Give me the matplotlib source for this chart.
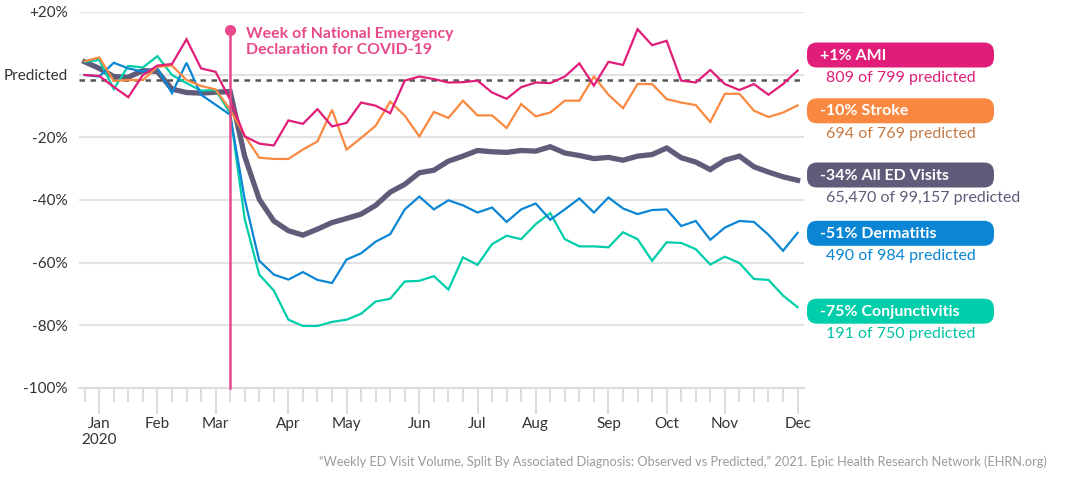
import matplotlib
matplotlib.use("Agg")
import matplotlib.pyplot as plt
import pandas as pd
from matplotlib.patches import FancyBboxPatch

plt.rcParams['font.family'] = ['Lato', 'DejaVu Sans']

# ---------------- data ----------------
week_start = "2019-12-29"
emergency_week = "2020-03-08"
predicted_level = -1.8

ami = [-0.1, -0.4, -3.9, -7.2, -0.1, 2.9, 3.4, 11.3, 2.0, 0.9,
       -8.0, -19.7, -22.0, -22.6, -14.6, -15.7, -11.0, -16.5, -15.4, -8.9,
       -9.9, -12.3, -1.9, -0.6, -1.4, -2.5, -2.4, -1.9, -5.7, -7.7,
       -4.0, -2.5, -2.7, -0.6, 3.6, -3.5, 4.1, 3.1, 14.5, 9.4,
       10.8, -1.9, -2.5, 1.5, -3.0, -4.9, -3.0, -6.4, -3.0, 1.3]
stroke = [4.3, 5.5, -2.0, -1.7, -1.7, 2.5, 2.9, -1.7, -3.6, -4.7,
          -11.2, -19.5, -26.5, -26.9, -26.9, -23.9, -21.3, -11.2, -23.9, -20.2,
          -16.3, -8.6, -13.1, -19.7, -11.9, -13.8, -8.3, -13.0, -13.0, -17.0,
          -9.4, -13.3, -12.1, -8.3, -8.3, -0.6, -6.4, -10.7, -3.0, -3.0,
          -7.8, -8.9, -9.7, -15.1, -6.1, -6.1, -11.5, -13.5, -12.1, -9.8]
all_ed = [4.1, 2.0, -0.6, -0.8, 1.3, 1.0, -4.6, -5.7, -5.9, -5.6,
          -5.4, -26.1, -39.8, -46.7, -49.8, -51.2, -49.3, -47.2, -45.9, -44.5,
          -41.7, -37.5, -35.0, -31.3, -30.5, -27.6, -26.0, -24.2, -24.6, -24.8,
          -24.2, -24.4, -23.0, -25.0, -25.8, -26.8, -26.4, -27.3, -26.0, -25.5,
          -23.4, -26.5, -27.9, -30.3, -27.3, -26.0, -29.4, -31.1, -32.6, -33.7]
dermatitis = [-0.1, -0.6, 3.8, 2.0, 1.0, 2.0, -5.9, 3.8, -6.4, -9.6,
              -12.8, -39.8, -59.4, -63.8, -65.4, -63.0, -65.5, -66.5, -59.0, -57.0,
              -53.3, -50.9, -43.0, -38.9, -43.0, -40.1, -41.7, -44.0, -42.4, -47.0,
              -43.0, -41.1, -46.3, -43.0, -39.5, -44.0, -39.2, -42.7, -44.5, -43.2,
              -43.0, -48.3, -46.7, -52.7, -48.8, -46.7, -47.0, -51.1, -56.2, -50.5]
conjunctivitis = [4.1, 4.7, -4.6, 2.8, 2.3, 5.9, -0.1, -2.7, -5.1, -4.9,
                  -12.3, -46.1, -63.8, -68.9, -78.2, -80.2, -80.2, -78.9, -78.2, -76.3,
                  -72.4, -71.5, -66.0, -65.8, -64.3, -68.6, -58.3, -60.7, -54.1, -51.4,
                  -52.5, -47.7, -44.2, -52.5, -54.8, -54.8, -55.1, -50.3, -52.5, -59.4,
                  -53.5, -53.7, -55.7, -60.6, -58.1, -60.1, -65.2, -65.5, -70.5, -74.2]

series_names = ["AMI", "Stroke", "All ED Visits", "Dermatitis", "Conjunctivitis"]
pct_change = ["+1%", "-10%", "-34%", "-51%", "-75%"]
observed = ["809", "694", "65,470", "490", "191"]
predicted = ["799", "769", "99,157", "984", "750"]

y_ticks = [20, 0, -20, -40, -60, -80, -100]
y_tick_labels = ["+20%", "Predicted", "-20%", "-40%", "-60%", "-80%", "-100%"]

# ---------------- style ----------------
line_colors = ["#E01E79", "#FA8840", "#5F5C7A", "#0B86D4", "#00CDAA"]
sub_colors = ["#E01E79", "#C47A45", "#5F5C7A", "#0B86D4", "#00C4A2"]
line_widths = [1.6, 1.6, 3.8, 1.6, 1.6]
emerg_color = "#E8498A"
grid_color = "#E2E2E2"

weeks = pd.date_range(week_start, periods=len(ami), freq="7D")
all_series = [ami, stroke, all_ed, dermatitis, conjunctivitis]

W, H = 1070, 480
fig = plt.figure(figsize=(W / 100, H / 100), dpi=100)
ax = fig.add_axes([79 / W, 1 - 388 / H, (804 - 79) / W, (388 - 12) / H])

draw_order = [2, 4, 3, 1, 0]
for k in draw_order:
    ax.plot(weeks, all_series[k], color=line_colors[k], lw=line_widths[k],
            solid_joinstyle="miter", zorder=3 + (k == 0))

ax.axhline(predicted_level, color="#555555", lw=1.8, ls=(0, (2.2, 2.2)), zorder=2.5)

# emergency marker
emer = pd.Timestamp(emergency_week)
ax.plot([emer, emer], [-100, 14.2], color=emerg_color, lw=1.8, zorder=6,
        clip_on=False)
ax.plot([emer], [14.2], marker="o", ms=7, color=emerg_color, zorder=6, clip_on=False)
ax.text(emer + pd.Timedelta(days=7.8), 10.5,
        "Week of National Emergency\nDeclaration for COVID-19",
        color=emerg_color, fontsize=11.4, fontweight="bold", va="center",
        ha="left", linespacing=1.15)

# axes
step = weeks[1] - weeks[0]
ax.set_xlim(weeks[0] - step * 0.39, weeks[-1] + step * 0.44)
ax.set_ylim(-100, 20)
ax.set_yticks(y_ticks)
ax.set_yticklabels(y_tick_labels)
ax.yaxis.grid(True, color=grid_color, lw=1.5)
ax.set_axisbelow(True)
ax.tick_params(axis="y", length=0, pad=8, labelsize=11, labelcolor="#333333")

month_pos, month_lab = [], []
prev = weeks[0].month
for d in weeks[1:]:
    if d.month != prev:
        month_pos.append(d)
        month_lab.append(d.strftime("%b") + ("\n2020" if d.month == 1 else ""))
        prev = d.month
ax.set_xticks(month_pos)
ax.set_xticklabels(month_lab)
ax.set_xticks(weeks, minor=True)
ax.tick_params(axis="x", which="major", length=19, width=1.5, color="#DDDDDD",
               labelsize=11, labelcolor="#333333", pad=2)
ax.tick_params(axis="x", which="minor", length=10, width=1.5, color="#DDDDDD")
for s in ["top", "right", "left"]:
    ax.spines[s].set_visible(False)
ax.spines["bottom"].set_color("#DDDDDD")
ax.spines["bottom"].set_linewidth(1.5)

# right-hand labels in pixel space
ov = fig.add_axes([0, 0, 1, 1])
ov.set_xlim(0, W)
ov.set_ylim(H, 0)
ov.axis("off")
ov.patch.set_alpha(0)
box_centers = [55, 110.8, 175, 233.3, 311.2]
for k in range(len(series_names)):
    cy = box_centers[k]
    ov.add_patch(FancyBboxPatch((807, cy - 12.5), 187, 25,
                                boxstyle="round,pad=0,rounding_size=10",
                                fc=line_colors[k], ec="none"))
    ov.text(820, cy + 0.5, f"{pct_change[k]} {series_names[k]}", color="white",
            fontsize=11.5, fontweight="bold", va="center", ha="left")
    ov.text(826, cy + 23, f"{observed[k]} of {predicted[k]} predicted",
            color=sub_colors[k], fontsize=11.5, va="center", ha="left")

fig.text(1047 / W, 1 - 462 / H,
         "\u201cWeekly ED Visit Volume, Split By Associated Diagnosis: Observed vs Predicted,\u201d 2021. "
         "Epic Health Research Network (EHRN.org)",
         ha="right", va="center", fontsize=9.2, color="#9A9A9A")

fig.savefig("out.png", dpi=100)
